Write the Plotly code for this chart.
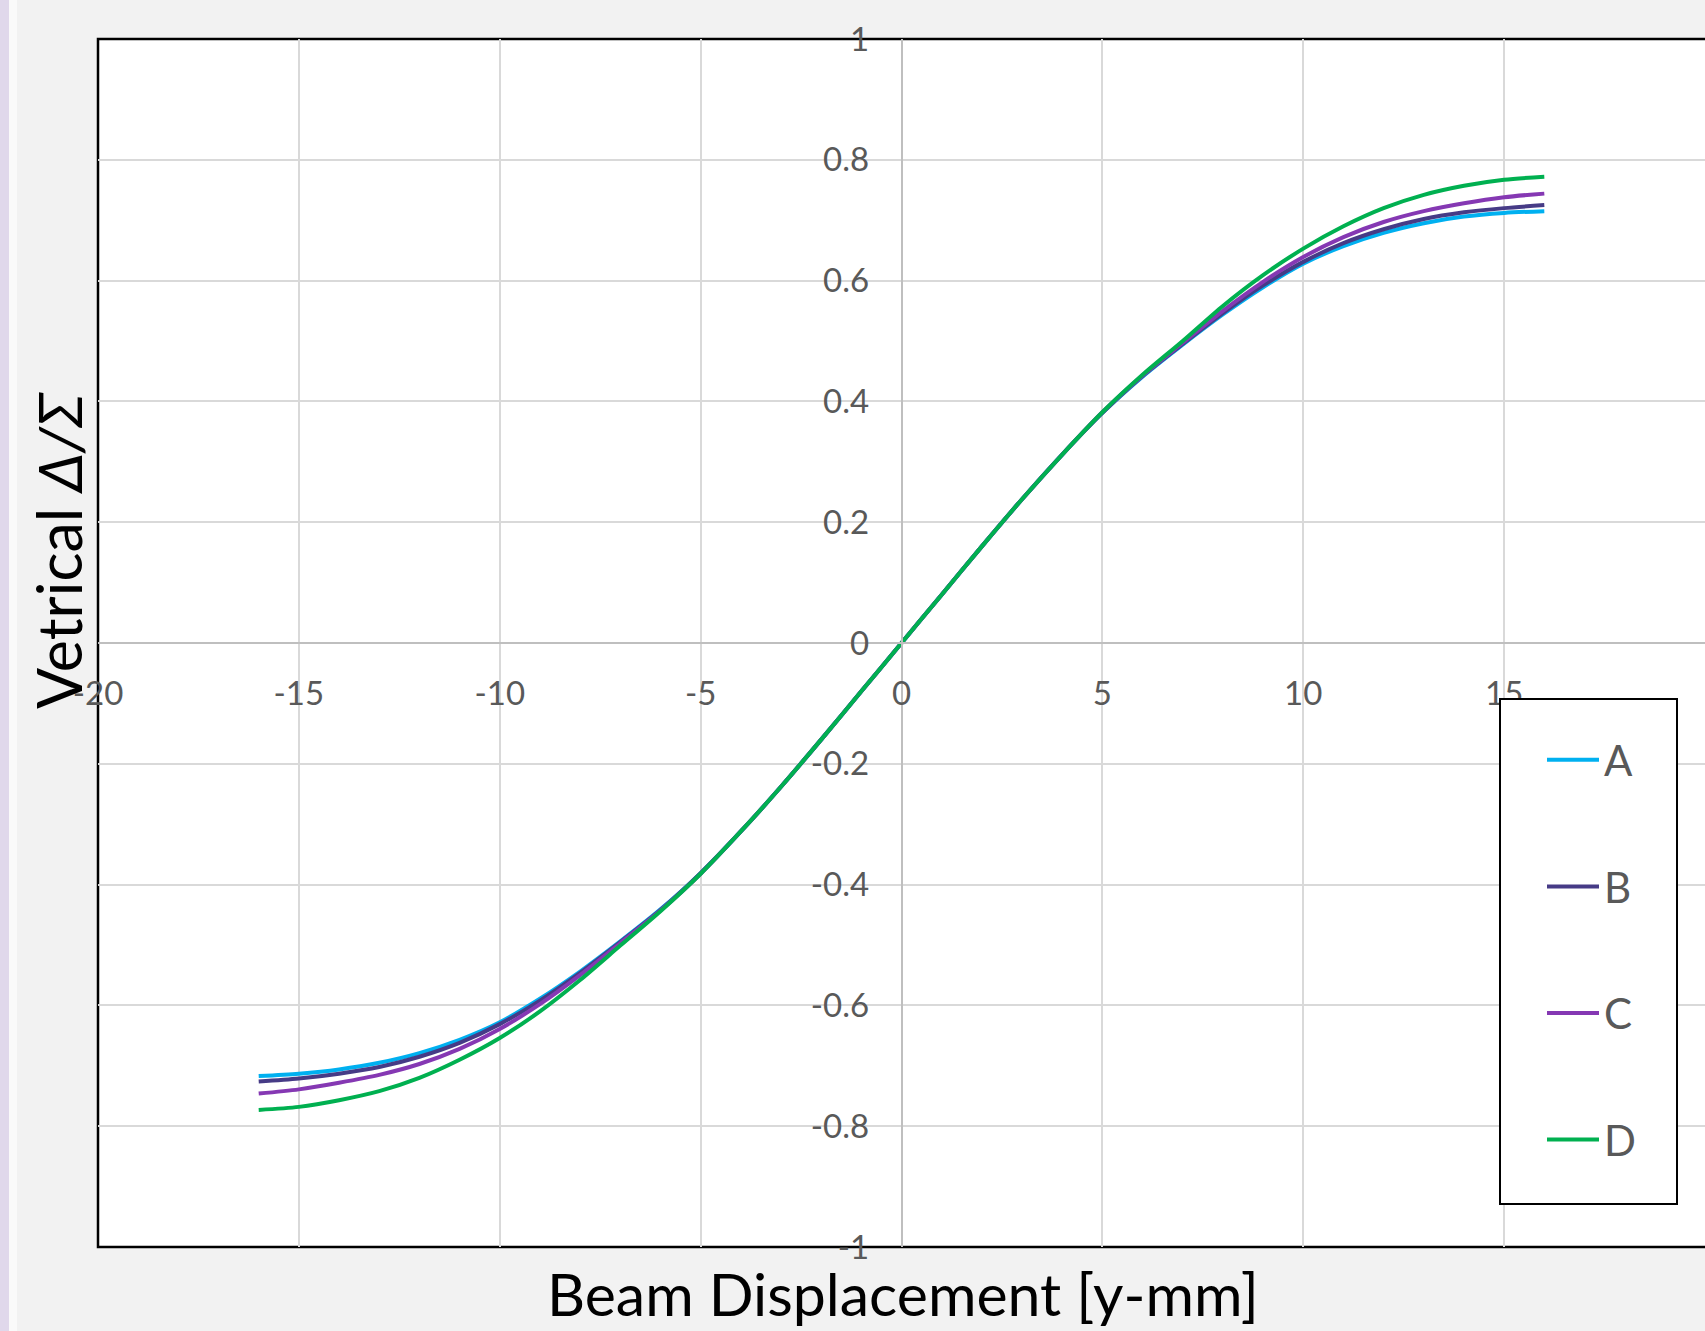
import plotly.graph_objects as go

# ---- data ----
x_mm = [-16, -15, -14, -13, -12, -11, -10, -9, -8, -7, -6, -5, -4, -3, -2, -1, 0,
        1, 2, 3, 4, 5, 6, 7, 8, 9, 10, 11, 12, 13, 14, 15, 16]

series_names = ["A", "B", "C", "D"]

A_vals = [-0.717, -0.713, -0.706, -0.695, -0.679, -0.657, -0.628, -0.589, -0.544, -0.494, -0.441,
          -0.381, -0.312, -0.238, -0.160, -0.080, 0.000, 0.080, 0.160, 0.238, 0.312, 0.381,
          0.441, 0.494, 0.544, 0.589, 0.628, 0.657, 0.679, 0.695, 0.706, 0.712, 0.715]
B_vals = [-0.726, -0.721, -0.713, -0.702, -0.685, -0.662, -0.631, -0.592, -0.546, -0.495, -0.442,
          -0.381, -0.312, -0.238, -0.160, -0.080, 0.000, 0.080, 0.160, 0.238, 0.312, 0.381,
          0.442, 0.495, 0.546, 0.592, 0.631, 0.662, 0.685, 0.702, 0.713, 0.720, 0.725]
C_vals = [-0.746, -0.739, -0.728, -0.715, -0.697, -0.672, -0.639, -0.598, -0.550, -0.497, -0.443,
          -0.382, -0.312, -0.238, -0.160, -0.080, 0.000, 0.080, 0.160, 0.238, 0.312, 0.382,
          0.443, 0.497, 0.550, 0.598, 0.639, 0.672, 0.697, 0.715, 0.728, 0.738, 0.744]
D_vals = [-0.773, -0.768, -0.757, -0.742, -0.720, -0.690, -0.654, -0.610, -0.558, -0.501, -0.444,
          -0.382, -0.312, -0.238, -0.160, -0.080, 0.000, 0.080, 0.160, 0.238, 0.312, 0.382,
          0.444, 0.500, 0.558, 0.609, 0.653, 0.690, 0.720, 0.742, 0.757, 0.767, 0.772]

x_tick_vals = [-20, -15, -10, -5, 0, 5, 10, 15, 20]
x_tick_text = ["-20", "-15", "-10", "-5", "0", "5", "10", "15", "20"]
y_tick_vals = [-1, -0.8, -0.6, -0.4, -0.2, 0, 0.2, 0.4, 0.6, 0.8, 1]
y_tick_text = ["-1", "-0.8", "-0.6", "-0.4", "-0.2", "0", "0.2", "0.4", "0.6", "0.8", "1"]

x_title = "Beam Displacement [y-mm]"
y_title = "Vetrical <i>Δ/Σ</i>"

colors = ["#00B0F0", "#463B86", "#8538B3", "#00B050"]

FONT = "Lato"
TICK_COLOR = "#595959"

fig = go.Figure()
for name, vals, col in zip(series_names, [A_vals, B_vals, C_vals, D_vals], colors):
    fig.add_trace(go.Scatter(
        x=x_mm, y=vals, mode="lines", name=name, legendgroup=name,
        line=dict(color=col, width=4, shape="spline", smoothing=0.8),
    ))

W, H = 1705, 1331
ML, MR, MT, MB = 98, 0, 39, 84
PW = W - ML - MR
PH = H - MT - MB


def px_x(p):
    return (p - ML) / PW


def px_y(p):
    return (H - MB - p) / PH


shapes = [
    # left lavender stripe of the window
    dict(type="rect", xref="paper", yref="paper", x0=px_x(0), x1=px_x(9), y0=-0.2, y1=1.2,
         fillcolor="#E0D8EB", line=dict(width=0), layer="below"),
    dict(type="rect", xref="paper", yref="paper", x0=px_x(9), x1=px_x(17), y0=-0.2, y1=1.2,
         fillcolor="#FAFAFA", line=dict(width=0), layer="below"),
    # plot frame
    dict(type="rect", xref="paper", yref="paper", x0=0, x1=1.01, y0=0, y1=1,
         line=dict(color="black", width=2.5), layer="below"),
    # legend box
    dict(type="rect", xref="paper", yref="paper", x0=px_x(1500), x1=px_x(1677),
         y0=px_y(1204), y1=px_y(699), fillcolor="white",
         line=dict(color="black", width=2), layer="above"),
]

annotations = [
    dict(text=y_title, xref="paper", yref="paper", x=px_x(58), y=px_y(551),
         textangle=-90, showarrow=False, xanchor="center", yanchor="middle",
         font=dict(family=FONT, size=61, color="black")),
    dict(text=x_title, xref="paper", yref="paper", x=px_x(903), y=px_y(1293),
         showarrow=False, xanchor="center", yanchor="middle",
         font=dict(family=FONT, size=59, color="black")),
]

fig.update_layout(
    width=W, height=H,
    margin=dict(l=ML, r=MR, t=MT, b=MB, pad=0),
    paper_bgcolor="#F2F2F2",
    plot_bgcolor="white",
    shapes=shapes,
    annotations=annotations,
    showlegend=True,
    legend=dict(
        x=px_x(1542), y=px_y(726), xanchor="left", yanchor="top",
        bgcolor="rgba(0,0,0,0)", borderwidth=0,
        font=dict(family=FONT, size=42, color=TICK_COLOR),
        traceorder="grouped", tracegroupgap=69, itemwidth=52,
    ),
    xaxis=dict(
        range=[-20, 20], tickvals=x_tick_vals, ticktext=x_tick_text,
        showgrid=True, gridcolor="#D9D9D9", gridwidth=1.5,
        zeroline=False, showline=True, linecolor="#BFBFBF", linewidth=1.5,
        anchor="free", position=0.5, ticks="", ticklabelstandoff=22,
        tickfont=dict(family=FONT, size=33, color=TICK_COLOR),
    ),
    yaxis=dict(
        range=[-1, 1], tickvals=y_tick_vals, ticktext=y_tick_text,
        showgrid=True, gridcolor="#D9D9D9", gridwidth=1.5,
        zeroline=False, showline=True, linecolor="#BFBFBF", linewidth=1.5,
        anchor="free", position=0.5, ticks="", ticklabelstandoff=25,
        tickfont=dict(family=FONT, size=33, color=TICK_COLOR),
    ),
)

fig.write_html("out.html")
